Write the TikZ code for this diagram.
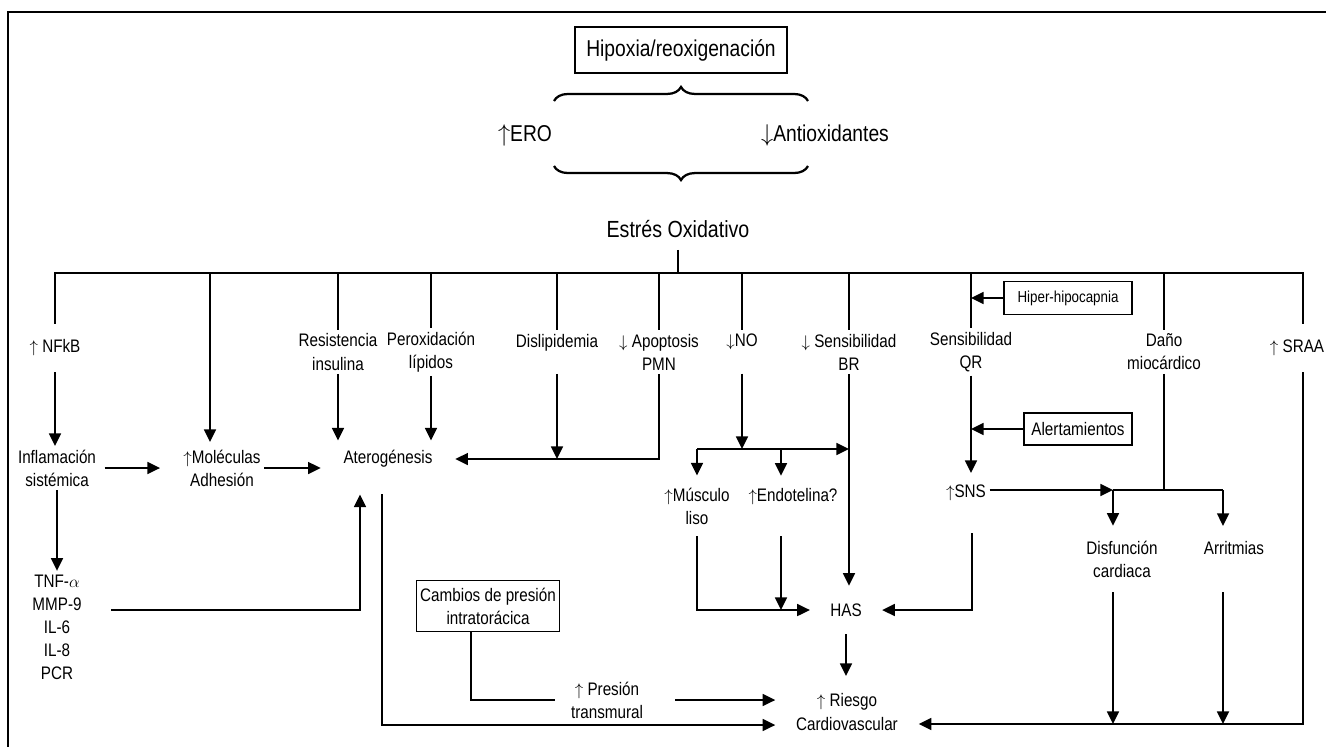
\documentclass[tikz,border=0pt]{standalone}
\usepackage{fontspec}
\setmainfont{Liberation Sans}[FakeStretch=0.84]
\usetikzlibrary{arrows.meta,calc,decorations.pathreplacing}

\begin{document}
\begin{tikzpicture}[x=0.025cm, y=-0.025cm, line width=1.3pt,
	lab/.style={align=center, inner sep=2pt, font=\fontsize{12.9}{16.4}\selectfont},
	big/.style={align=center, inner sep=2pt, font=\fontsize{16.3}{20}\selectfont},
	box/.style={lab, draw},
	conn/.style={-{Triangle[length=9pt,width=8.5pt]}},
	brc/.style={decorate, decoration={brace, amplitude=10pt}, line width=1.6pt}]

	\useasboundingbox (0,0) rectangle (1326,746);
	\draw[line width=1.4pt] (8,12) rectangle (1340,760);

	\node[box, big, minimum width=150.8pt, minimum height=32.7pt] (hip) at (681,50) {Hipoxia/reoxigenación};
	\node[big] (ero) at (525,135) {$\uparrow$ERO};
	\node[big] (anti) at (825,135) {$\downarrow$Antioxidantes};
	\node[big, font=\fontsize{16.6}{20}\selectfont] (eo) at (678,229) {Estrés Oxidativo};
	\draw[brc] (554,101) -- (808,101);
	\draw[brc] (808,166) -- (554,166);

	\node[lab, minimum height=33pt] (nfkb) at (55,348) {$\uparrow$ NFkB};
	\node[lab] (res) at (338,352) {Resistencia\\insulina};
	\node[lab] (per) at (431,352) {Peroxidación\\lípidos};
	\node[lab] (dis) at (557,352) {Dislipidemia\\\mbox{}};
	\node[lab] (apo) at (659,352) {$\downarrow$ Apoptosis\\PMN};
	\node[lab] (no) at (742,352) {$\downarrow$NO\\\mbox{}};
	\node[lab] (br) at (849,352) {$\downarrow$ Sensibilidad\\BR};
	\node[lab] (qr) at (971,352) {Sensibilidad\\QR};
	\node[lab] (dano) at (1164,352) {Daño\\miocárdico};
	\node[lab, minimum height=33pt] (sraa) at (1297,348) {$\uparrow$ SRAA};

	\node[box, font=\fontsize{11.3}{13}\selectfont, minimum width=91pt, minimum height=23.5pt] (hiper) at (1068,298) {Hiper-hipocapnia};
	\node[box, minimum width=76.8pt, minimum height=22.8pt] (alert) at (1078,429) {Alertamientos};

	\node[lab] (inf) at (57,468) {Inflamación\\sistémica};
	\node[lab] (mol) at (222,468) {$\uparrow$Moléculas\\Adhesión};
	\node[lab, inner xsep=15.6pt, inner ysep=6.4pt] (ate) at (388,459) {Aterogénesis};
	\node[lab] (tnf) at (57,627) {TNF-$\alpha$\\MMP-9\\IL-6\\IL-8\\PCR};
	\node[lab, inner ysep=8pt] (musc) at (697,506) {$\uparrow$Músculo\\liso};
	\node[lab, inner ysep=8pt] (endo) at (793,506) {$\uparrow$Endotelina?\\\mbox{}};
	\node[lab, inner ysep=8pt] (sns) at (966,503) {$\uparrow$SNS\\\mbox{}};
	\node[lab, inner ysep=10pt] (disf) at (1122,559) {Disfunción\\cardiaca};
	\node[lab, inner ysep=10pt] (arrit) at (1234,559) {Arritmias\\\mbox{}};
	\node[lab, inner xsep=13.9pt, inner ysep=12pt] (has) at (846,610) {HAS};
	\node[box, minimum width=101.7pt, minimum height=36.3pt] (cam) at (488,606) {Cambios de presión\\intratorácica};
	\node[lab, inner xsep=10.7pt] (pres) at (607,700) {$\uparrow$ Presión\\transmural};
	\node[lab, inner xsep=14.2pt, inner ysep=12pt] (ries) at (847,712) {$\uparrow$ Riesgo\\Cardiovascular};

	\coordinate (bus) at (678,273);
	\coordinate (molin) at ($(mol.north)+(-12,-4)$);
	\coordinate (split) at (742,449);
	\coordinate (endoin) at ($(endo.north)+(-12,0)$);
	\coordinate (endoout) at ($(endo.south)+(-12,0)$);
	\coordinate (dl) at (1113,490);
	\coordinate (dr) at (1223,490);
	\coordinate (bot) at (1303,724);

	\draw[shorten <=6pt] (eo.south) -- (bus);
	\draw (nfkb.north) |- (bus) -| ($(sraa.north)+(6,0)$);
	\foreach \n in {res,per,dis,apo,no,br,qr,dano}
		\draw (bus -| \n.north) -- (\n.north);
	\draw[conn] (bus -| molin) -- (molin);

	\draw[conn] (nfkb.south) -- (nfkb.south |- inf.north);
	\draw[conn] (inf.south) -- (inf.south |- tnf.north);
	\draw[conn, shorten <=3.5pt, shorten >=14pt] (inf.east) -- (inf.east -| mol.west);
	\draw[conn] (mol.east) -- (mol.east -| ate.west);
	\draw[conn] (res.south) -- (res.south |- ate.north);
	\draw[conn] (per.south) -- (per.south |- ate.north);
	\draw[conn] (dis.south) -- (dis.south |- ate.east);
	\draw[conn] (apo.south) |- (ate.east);
	\draw[conn] ($(tnf.east)+(26,-17)$) -| ($(ate.south)+(-28,17)$);
	\draw[conn] ($(ate.south)+(-6,17)$) |- ($(ries.west)+(0,13)$);
	\draw ($(cam.south)+(-17,0)$) |- (pres.west);
	\draw[conn, shorten <=11.7pt] (pres.east) -- (pres.east -| ries.west);

	\draw[conn] (no.south) -- (split);
	\draw[conn] (split -| musc.north) -- (split -| br.south);
	\draw[conn] (split -| musc.north) -- (musc.north);
	\draw[conn] (split -| endoin) -- (endoin);
	\draw[conn] (br.south) -- (br.south |- has.north);
	\draw[conn] (musc.south) |- (has.west);
	\draw[conn] (endoout) -- (endoout |- has.west);
	\draw[conn] ($(sns.south)+(6,0)$) |- (has.east);
	\draw[conn] (has.south) -- (has.south |- ries.north);

	\draw[conn] (hiper.west) -- (hiper.west -| qr.south);
	\draw[conn] (alert.west) -- (alert.west -| qr.south);
	\draw[conn] (qr.south) -- (qr.south |- sns.north);
	\draw[conn] (sns.east |- dl) -- (dl);
	\draw (dano.south) -- (dano.south |- dl);
	\draw (dl) -- (dr);
	\draw[conn] (dl) -- (dl |- disf.north);
	\draw[conn] (dr) -- (dr |- arrit.north);
	\draw[conn] (dl |- disf.south) -- (dl |- bot);
	\draw[conn] (dr |- arrit.south) -- (dr |- bot);
	\draw[conn] ($(sraa.south)+(6,0)$) -- (bot) -- (bot -| ries.east);

\end{tikzpicture}
\end{document}
